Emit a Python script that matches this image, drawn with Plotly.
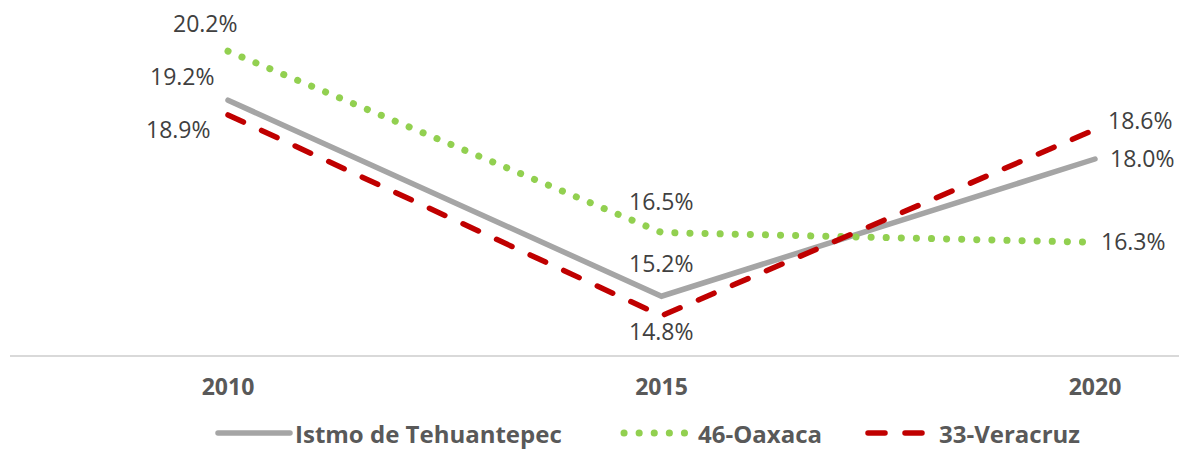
import plotly.graph_objects as go

years = ["2010", "2015", "2020"]
series_names = ["Istmo de Tehuantepec", "46-Oaxaca", "33-Veracruz"]
istmo = [19.2, 15.2, 18.0]
oaxaca = [20.2, 16.5, 16.3]
veracruz = [18.9, 14.8, 18.6]

colors = ["#A5A5A5", "#92D050", "#C00000"]
dashes = ["solid", "0.1px,15px", "17px,20px"]
widths = [5.5, 7, 5.5]
data = [istmo, oaxaca, veracruz]

FONT = "Open Sans"
xs = list(range(len(years)))

fig = go.Figure()
for name, vals, c, d, w in zip(series_names, data, colors, dashes, widths):
    fig.add_trace(go.Scatter(x=xs, y=vals, mode="lines", name=name,
                             line=dict(color=c, width=w, dash=d),
                             showlegend=False, hoverinfo="skip"))

# label offsets (px) per series per point: (xshift, yshift)
offsets = [
    [(-46, 24), (0, 33), (47, 1)],     # Istmo
    [(-23, 28), (0, 32), (38, 1)],     # Oaxaca
    [(-50, -14), (0, -15), (45, 10)],  # Veracruz
]
for vals, offs in zip(data, offsets):
    for i, (v, (dx, dy)) in enumerate(zip(vals, offs)):
        fig.add_annotation(x=xs[i], y=v, text=f"{v:.1f}%", showarrow=False,
                           xshift=dx, yshift=dy,
                           font=dict(family=FONT, size=23, color="#404040"))

# custom legend
W, H = 1179, 451
L, B = 10, 96
PW, PH = W - L, H - B
LEG_Y = 433
legend_items = [
    (218, 290, 294, 0),
    (624, 693, 697, 1),
    (868, 929, 938, 2),
]
for x0, x1, tx, k in legend_items:
    yy = -(LEG_Y - PH) / PH
    fig.add_shape(type="line", xref="paper", yref="paper",
                  x0=(x0 - L) / PW, x1=(x1 - L) / PW, y0=yy, y1=yy,
                  line=dict(color=colors[k], width=widths[k], dash=dashes[k]))
    fig.add_annotation(xref="paper", yref="paper", x=(tx - L) / PW,
                       y=yy, xanchor="left", yanchor="middle", borderpad=0,
                       text=f"<b>{series_names[k]}</b>", showarrow=False,
                       font=dict(family=FONT, size=24, color="#595959"))

fig.update_layout(
    width=W, height=H,
    margin=dict(l=L, r=0, t=0, b=B),
    plot_bgcolor="white", paper_bgcolor="white",
    showlegend=False,
    xaxis=dict(range=[-(228 - L) / 433.5, -(228 - L) / 433.5 + PW / 433.5],
               tickvals=xs,
               ticktext=[f"<b>{y}</b>" for y in years],
               showgrid=False, zeroline=False, showline=True,
               linecolor="#D9D9D9", linewidth=1.5, ticks="",
               tickfont=dict(family=FONT, size=23, color="#595959"),
               ticklabelstandoff=11,
               fixedrange=True),
    yaxis=dict(range=[14.0, 14.0 + PH / 49.0], visible=False, showgrid=False,
               zeroline=False, fixedrange=True),
)

post = """
document.body.style.margin='0px';
document.querySelectorAll('path.js-line, .shapelayer path, .layer-above path').forEach(function(p){
  p.style.strokeLinecap='round';
});
"""
fig.write_html("out.html", post_script=post, config={"displayModeBar": False})
